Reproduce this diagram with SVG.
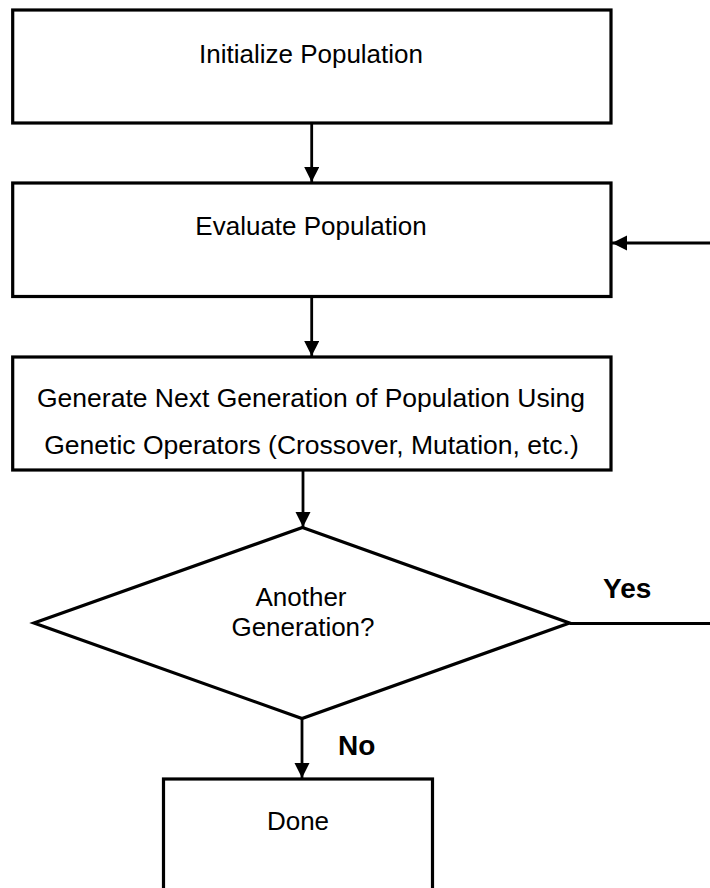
<svg xmlns="http://www.w3.org/2000/svg" width="710" height="888" viewBox="0 0 710 888">
<style>
.box{fill:#fff;stroke:#000;stroke-width:3.2}
.t{font-family:"Liberation Sans",Arial,sans-serif;font-size:26px;fill:#000;text-anchor:middle}
.lbl{font-family:"Liberation Sans",Arial,sans-serif;font-size:28px;font-weight:bold;fill:#000}
.c{fill:none;stroke:#000;stroke-width:2.8}
</style>
<defs>
<marker id="ah" markerUnits="userSpaceOnUse" markerWidth="16" markerHeight="16" refX="15" refY="7.5" orient="auto">
<path d="M0,0 L15,7.5 L0,15 z" fill="#000"/>
</marker>
</defs>
<rect width="710" height="888" fill="#fff"/>
<g id="connectors">
<line class="c" x1="311.7" y1="124" x2="311.7" y2="182" marker-end="url(#ah)"/>
<line class="c" x1="311.7" y1="297" x2="311.7" y2="356" marker-end="url(#ah)"/>
<line class="c" x1="303" y1="471" x2="303" y2="527" marker-end="url(#ah)"/>
<line class="c" x1="302" y1="718" x2="302" y2="778" marker-end="url(#ah)"/>
<path class="c" d="M569.5,623.5 L720,623.5 L720,243 L612,243" marker-end="url(#ah)"/>
</g>
<g id="initialize">
<rect class="box" x="12.7" y="10" width="598.3" height="113"/>
<text class="t" x="311" y="62.7">Initialize Population</text>
</g>
<g id="evaluate">
<rect class="box" x="12.7" y="183" width="598.3" height="113.5"/>
<text class="t" x="311" y="235">Evaluate Population</text>
</g>
<g id="generate">
<rect class="box" x="12.7" y="357" width="598.3" height="113"/>
<text class="t" x="311" y="407" style="font-size:26.5px">Generate Next Generation of Population Using</text>
<text class="t" x="311.5" y="454" style="font-size:26.5px">Genetic Operators (Crossover, Mutation, etc.)</text>
</g>
<g id="decision">
<polygon class="box" points="302.5,527.5 569.5,623 302,718.5 34,623"/>
<text class="t" x="301" y="606">Another</text>
<text class="t" x="303" y="636">Generation?</text>
</g>
<g id="done">
<rect class="box" x="163.5" y="779" width="269" height="130"/>
<text class="t" x="298" y="830">Done</text>
</g>
<g id="labels">
<text class="lbl" x="603" y="598">Yes</text>
<text class="lbl" x="338" y="755">No</text>
</g>
</svg>
